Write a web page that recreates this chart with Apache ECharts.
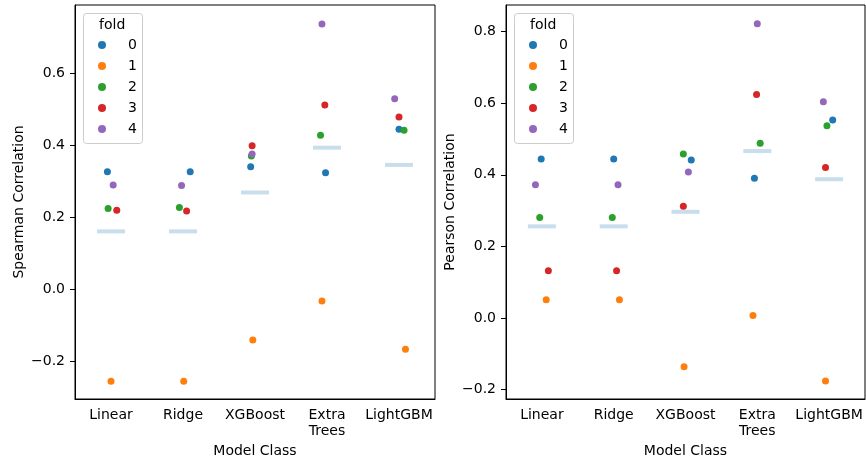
<!DOCTYPE html>
<html>
<head>
<meta charset="utf-8">
<script src="https://cdn.jsdelivr.net/npm/echarts@6/dist/echarts.min.js"></script>
<style>
  html, body { margin: 0; padding: 0; background: #fff; }
  #chart { width: 866px; height: 464px; }
</style>
</head>
<body>
<div id="chart"></div>
<script>
// categories
const models = ['Linear', 'Ridge', 'XGBoost', 'Extra\nTrees', 'LightGBM'];
const folds = ['0', '1', '2', '3', '4'];
const foldColors = ['#1f77b4', '#ff7f0e', '#2ca02c', '#d62728', '#9467bd'];

// spearman correlation, one array per fold (order follows models)
const spearman = [
  [0.326, 0.326, 0.340, 0.323, 0.444],
  [-0.256, -0.256, -0.141, -0.033, -0.167],
  [0.224, 0.227, 0.370, 0.427, 0.441],
  [0.219, 0.217, 0.398, 0.511, 0.478],
  [0.289, 0.288, 0.375, 0.736, 0.529]
];
// pearson correlation, one array per fold
const pearson = [
  [0.444, 0.444, 0.441, 0.390, 0.553],
  [0.051, 0.051, -0.136, 0.007, -0.176],
  [0.281, 0.281, 0.458, 0.488, 0.537],
  [0.132, 0.132, 0.312, 0.624, 0.420],
  [0.372, 0.372, 0.408, 0.822, 0.604]
];
// strip jitter (in category units)
const spearmanJitter = [
  [-0.05, 0.10, -0.06, -0.02, 0.00],
  [0.00, 0.01, -0.03, -0.07, 0.09],
  [-0.04, -0.05, -0.05, -0.09, 0.07],
  [0.08, 0.05, -0.04, -0.03, 0.00],
  [0.03, -0.02, -0.04, -0.07, -0.06]
];
const pearsonJitter = [
  [-0.01, 0.00, 0.08, -0.04, 0.05],
  [0.06, 0.08, -0.02, -0.06, -0.05],
  [-0.03, -0.02, -0.03, 0.04, -0.03],
  [0.09, 0.04, -0.03, -0.01, -0.05],
  [-0.09, 0.06, 0.04, 0.00, -0.08]
];
// tick labels
const spearmanTicks = [-0.2, 0.0, 0.2, 0.4, 0.6];
const pearsonTicks = [-0.2, 0.0, 0.2, 0.4, 0.6, 0.8];

const FONT = 'DejaVu Sans';
const fmt = v => v.toFixed(1).replace('-', '\u2212');

// mean over folds for each model
function means(table) {
  return models.map((m, i) => {
    let s = 0;
    table.forEach(row => { s += row[i]; });
    return s / table.length;
  });
}

function catAxis(gridIndex) {
  return {
    type: 'category', gridIndex: gridIndex, data: models,
    name: 'Model Class', nameLocation: 'middle', nameGap: 43,
    nameTextStyle: { fontFamily: FONT, fontSize: 14, color: '#000' },
    axisLine: { onZero: false, lineStyle: { color: '#000', width: 1 } },
    axisTick: { alignWithLabel: true, length: 5, lineStyle: { color: '#000' } },
    axisLabel: { interval: 0, margin: 8, fontFamily: FONT, fontSize: 14, color: '#000', lineHeight: 16 },
    splitLine: { show: false }
  };
}
function posAxis(gridIndex) {
  return { type: 'value', gridIndex: gridIndex, min: -0.5, max: 4.5, show: false };
}
function valAxis(gridIndex, name, min, max, ticks) {
  return {
    type: 'value', gridIndex: gridIndex, min: min, max: max,
    name: name, nameLocation: 'middle', nameGap: 49,
    nameTextStyle: { fontFamily: FONT, fontSize: 14, color: '#000' },
    axisLine: { show: true, onZero: false, lineStyle: { color: '#000', width: 1 } },
    axisTick: { show: true, length: 5, customValues: ticks, lineStyle: { color: '#000' } },
    axisLabel: { customValues: ticks, margin: 10, fontFamily: FONT, fontSize: 14, color: '#000', formatter: fmt },
    splitLine: { show: false }
  };
}

function panelSeries(table, jitter, xIdx, yIdx) {
  const out = [];
  out.push({
    type: 'scatter', xAxisIndex: xIdx, yAxisIndex: yIdx,
    symbol: 'rect', symbolSize: [28, 4], silent: true, z: 1,
    itemStyle: { color: '#bcd6e8' },
    data: means(table).map((v, i) => [i, v])
  });
  folds.forEach((f, k) => {
    out.push({
      type: 'scatter', name: f, xAxisIndex: xIdx, yAxisIndex: yIdx,
      symbol: 'circle', symbolSize: 7, z: 3,
      itemStyle: { color: foldColors[k], opacity: 1 },
      data: table[k].map((v, i) => [i + jitter[k][i], v])
    });
  });
  return out;
}

function legendBox(x) {
  return [
    { type: 'rect', left: x, top: 13, z: 0,
      shape: { width: 59, height: 130, r: 3 },
      style: { fill: 'rgba(255,255,255,0.8)', stroke: '#cccccc', lineWidth: 1 } },
    { type: 'text', left: x + 16, top: 18, z: 1,
      style: { text: 'fold', font: '14px "DejaVu Sans"', fill: '#000' } }
  ];
}
function legend(x) {
  return {
    data: folds, orient: 'vertical', left: x, top: 37, padding: 0, z: 5,
    icon: 'circle', itemWidth: 8, itemHeight: 8, itemGap: 5,
    selectedMode: false,
    textStyle: { fontFamily: FONT, fontSize: 14, color: '#000', lineHeight: 16, padding: [0, 0, 0, 17] }
  };
}

const chart = echarts.init(document.getElementById('chart'), null, { renderer: 'canvas' });
const option = {
  animation: false,
  backgroundColor: '#fff',
  grid: [
    { left: 75, top: 5, width: 360, height: 394, show: true, borderColor: '#000', borderWidth: 1 },
    { left: 506, top: 5, width: 359, height: 394, show: true, borderColor: '#000', borderWidth: 1 }
  ],
  xAxis: [catAxis(0), posAxis(0), catAxis(1), posAxis(1)],
  yAxis: [
    valAxis(0, 'Spearman Correlation', -0.305, 0.789, spearmanTicks),
    valAxis(1, 'Pearson Correlation', -0.226, 0.874, pearsonTicks)
  ],
  legend: [legend(98), legend(529)],
  graphic: legendBox(83).concat(legendBox(514)),
  series: panelSeries(spearman, spearmanJitter, 1, 0).concat(panelSeries(pearson, pearsonJitter, 3, 1))
};
chart.setOption(option);
</script>
</body>
</html>
